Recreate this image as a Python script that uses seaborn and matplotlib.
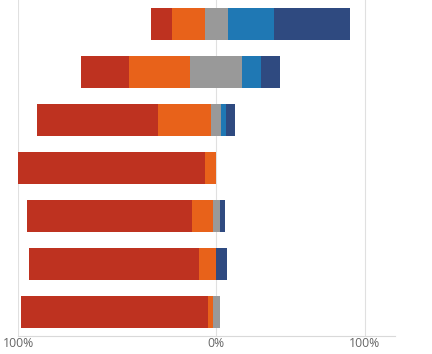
import numpy as np
import pandas as pd
import matplotlib
matplotlib.use("Agg")
import matplotlib.pyplot as plt
import seaborn as sns

# Likert answers per question, as shares of 1.0
questions = ["Q1", "Q2", "Q3", "Q4", "Q5", "Q6", "Q7"]
strongly_disagree = [0.106, 0.242, 0.611, 0.944, 0.833, 0.859, 0.944]
disagree = [0.164, 0.307, 0.268, 0.056, 0.106, 0.086, 0.025]
neutral = [0.114, 0.263, 0.050, 0.000, 0.035, 0.000, 0.035]
agree = [0.232, 0.096, 0.025, 0.000, 0.000, 0.000, 0.000]
strongly_agree = [0.384, 0.096, 0.045, 0.000, 0.025, 0.056, 0.000]

tick_pos = [-1.0, 0.0, 0.75]
tick_labels = ["100%", "0%", "100%"]

c_red = "#BE3220"
c_orange = "#E8621A"
c_gray = "#999999"
c_lblue = "#1F78B4"
c_dblue = "#2F4A80"

df = pd.DataFrame({
    "q": questions,
    "sd": strongly_disagree,
    "d": disagree,
    "n": neutral,
    "a": agree,
    "sa": strongly_agree,
})
half = df["n"] / 2
# bar ends measured from zero, drawn outermost first
df["end_sa"] = half + df["a"] + df["sa"]
df["end_a"] = half + df["a"]
df["end_nr"] = half
df["end_sd"] = -(half + df["d"] + df["sd"])
df["end_d"] = -(half + df["d"])
df["end_nl"] = -half

fig = plt.figure(figsize=(4.32, 3.54), dpi=100)
ax = fig.add_axes([18 / 432, 18 / 354, 377 / 432, 336 / 354])

for col, c in [("end_sa", c_dblue), ("end_a", c_lblue), ("end_nr", c_gray),
               ("end_sd", c_red), ("end_d", c_orange), ("end_nl", c_gray)]:
    sns.barplot(data=df, x=col, y="q", orient="h", color=c, saturation=1,
                width=0.667, linewidth=0, errorbar=None, ax=ax, zorder=3)

ax.set_xlim(-1.0, (395 - 216.5) / 198)
ax.set_ylim(6.5, -0.5)
ax.set_xticks(tick_pos)
ax.set_xticklabels(tick_labels, fontsize=8.8, color="#666666", family=["Open Sans", "DejaVu Sans"])
ax.tick_params(axis="x", length=0, pad=0.5)
ax.set_yticks([])
ax.set_xlabel("")
ax.set_ylabel("")
for s in ["top", "right", "left"]:
    ax.spines[s].set_visible(False)
ax.spines["bottom"].set_color("#d9d9d9")
ax.spines["bottom"].set_linewidth(0.8)
for x in tick_pos:
    ax.axvline(x, color="#e0e0e0", linewidth=0.8, zorder=1)
ax.set_facecolor("white")

fig.savefig("out.png", dpi=100)
